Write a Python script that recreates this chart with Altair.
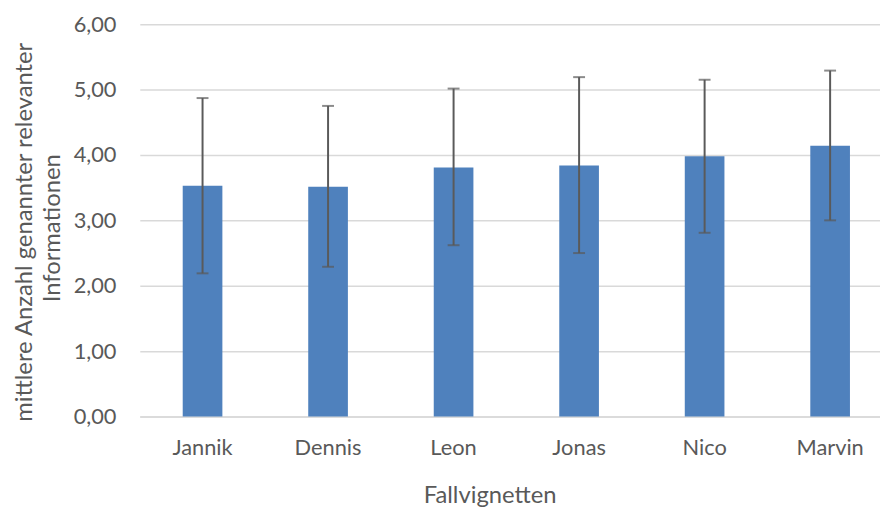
import altair as alt
import pandas as pd

names = ["Jannik", "Dennis", "Leon", "Jonas", "Nico", "Marvin"]
means = [3.53, 3.515, 3.81, 3.84, 3.98, 4.14]
lows = [2.19, 2.29, 2.62, 2.50, 2.81, 3.00]
highs = [4.87, 4.75, 5.015, 5.19, 5.15, 5.29]
y_title_lines = ["mittlere Anzahl genannter relevanter", "Informationen"]

df = pd.DataFrame({"name": names, "mean": means, "lo": lows, "hi": highs})

FONT = "Lato"
GREY = "#595959"

xscale = alt.Scale(range=[0, 760], paddingInner=0.684, paddingOuter=0.342)
xenc = alt.X(
    "name:N",
    sort=names,
    scale=xscale,
    axis=alt.Axis(
        title="Fallvignetten",
        labelAngle=0,
        ticks=False,
        tickSize=0,
        labelPadding=21,
        labelFont=FONT,
        labelFontSize=22,
        labelColor=GREY,
        domainColor="#d9d9d9",
        domainWidth=1.5,
        titleFont=FONT,
        titleFontSize=24,
        titleFontWeight="normal",
        titleColor=GREY,
        titleX=353,
        titleY=87,
        titleAlign="center",
        titleBaseline="alphabetic",
    ),
)

yenc = alt.Y(
    "mean:Q",
    scale=alt.Scale(domain=[0, 6], nice=False),
    axis=alt.Axis(
        title=None,
        values=[0, 1, 2, 3, 4, 5, 6],
        labelExpr="replace(format(datum.value, '.2f'), '.', ',')",
        domain=False,
        ticks=False,
        tickSize=0,
        labelPadding=24,
        labelFont=FONT,
        labelFontSize=22,
        labelColor=GREY,
        gridColor="#d9d9d9",
        gridWidth=1.5,
    ),
)

bars = alt.Chart(df).mark_bar(color="#4f81bd").encode(x=xenc, y=yenc)

rules = alt.Chart(df).mark_rule(color="#5a5a5a", strokeWidth=2).encode(
    x=alt.X("name:N", sort=names, scale=xscale),
    y="lo:Q",
    y2="hi:Q",
)

cap_lo = alt.Chart(df).mark_tick(color="#5a5a5a", orient="horizontal", size=12, thickness=2).encode(
    x=alt.X("name:N", sort=names, scale=xscale),
    y="lo:Q",
)
cap_hi = alt.Chart(df).mark_tick(color="#5a5a5a", orient="horizontal", size=12, thickness=2).encode(
    x=alt.X("name:N", sort=names, scale=xscale),
    y="hi:Q",
)

title1 = alt.Chart(pd.DataFrame({"t": [y_title_lines[0]]})).mark_text(
    angle=270, align="center", baseline="middle", font=FONT, fontSize=24, color=GREY
).encode(text="t:N", x=alt.value(-116), y=alt.value(210))

title2 = alt.Chart(pd.DataFrame({"t": [y_title_lines[1]]})).mark_text(
    angle=270, align="center", baseline="middle", font=FONT, fontSize=24, color=GREY
).encode(text="t:N", x=alt.value(-88), y=alt.value(206))

chart = (
    alt.layer(bars, rules, cap_lo, cap_hi, title1, title2)
    .properties(
        width=747,
        height=396,
        padding={"left": 133, "top": 14, "right": 0, "bottom": 93},
        autosize=alt.AutoSizeParams(type="none"),
        background="white",
    )
    .configure_view(stroke=None)
)

chart.save("out.html", embed_options={"renderer": "svg", "actions": False})
